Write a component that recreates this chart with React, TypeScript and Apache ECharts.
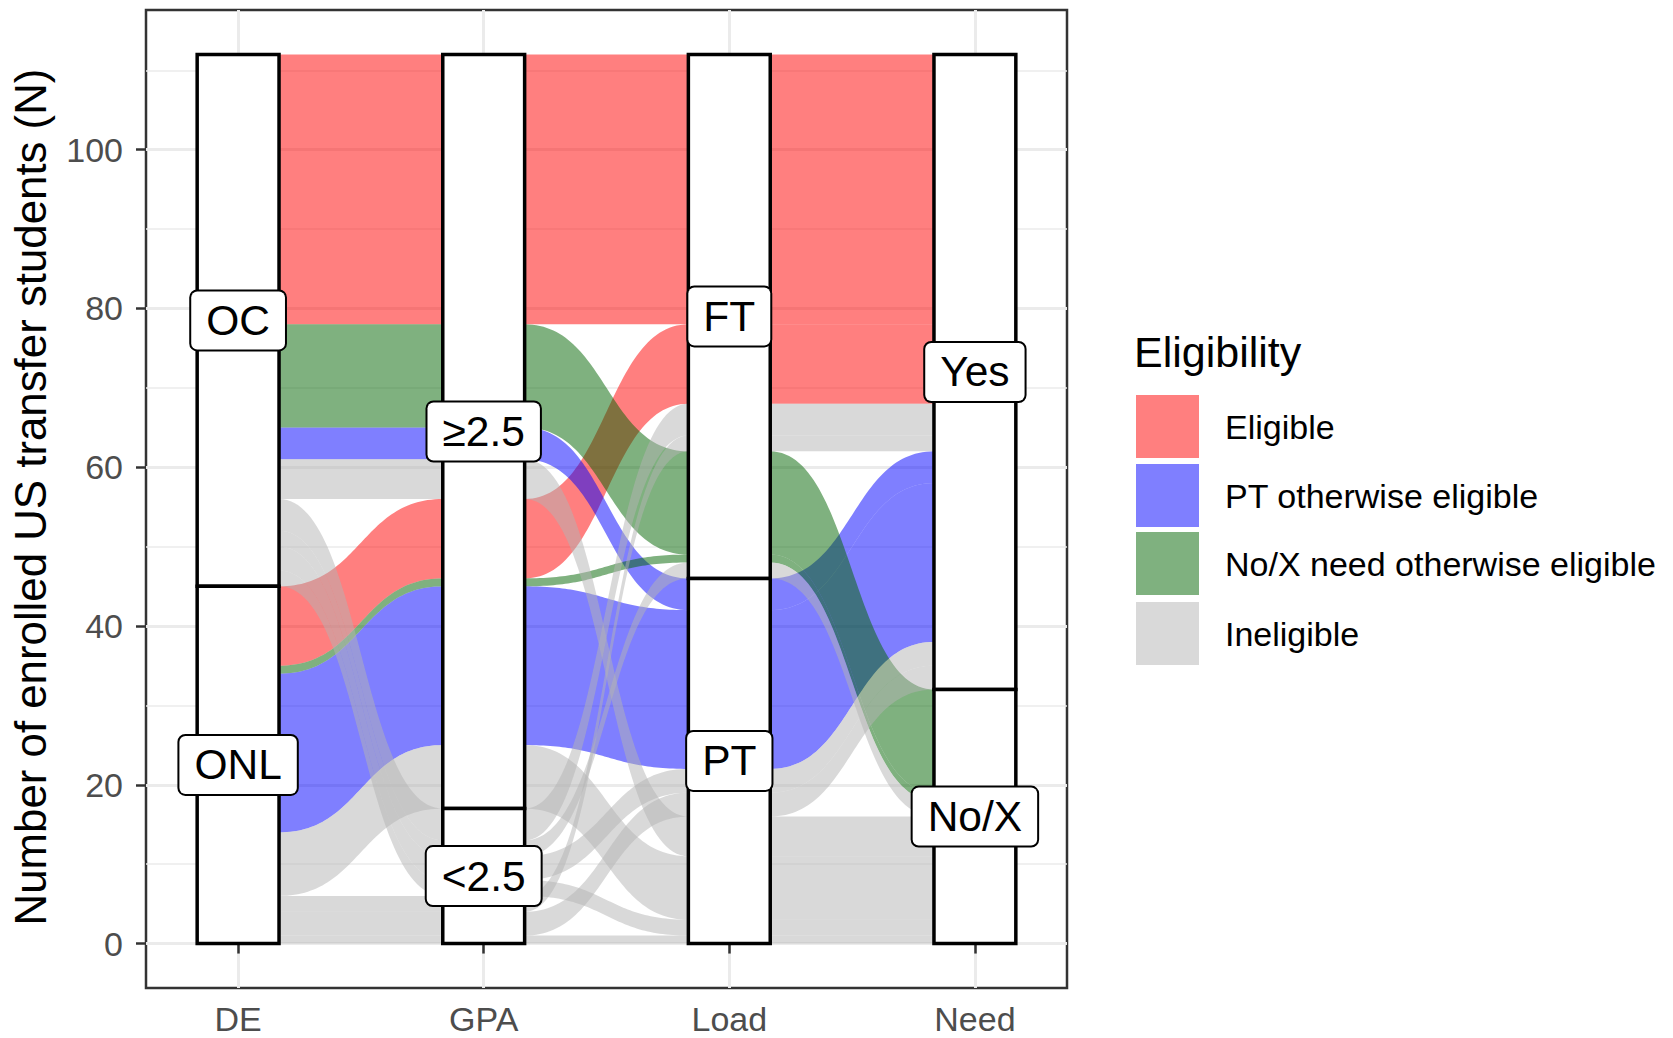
import React, { useEffect, useRef } from 'react';
import * as echarts from 'echarts';

// ---------- data ----------
const axisNames = ['DE', 'GPA', 'Load', 'Need'];
const strataDE = ['OC', 'ONL'];
const strataGPA = ['≥2.5', '<2.5'];
const strataLoad = ['FT', 'PT'];
const strataNeed = ['Yes', 'No/X'];

const eligibilityLevels = ['Eligible', 'PT otherwise eligible', 'No/X need otherwise eligible', 'Ineligible'];
const eligibilityColors = ['rgba(255,0,0,0.5)', 'rgba(0,0,255,0.5)', 'rgba(0,100,0,0.5)', 'rgba(179,179,179,0.5)'];

// one entry per alluvium (combination of strata)
const alluvDE = ['OC', 'ONL', 'OC', 'ONL', 'OC', 'ONL', 'OC', 'ONL', 'OC', 'OC', 'OC', 'OC', 'ONL', 'ONL', 'ONL'];
const alluvGPA = ['≥2.5', '≥2.5', '≥2.5', '≥2.5', '≥2.5', '≥2.5', '≥2.5', '≥2.5', '<2.5', '<2.5', '<2.5', '<2.5', '<2.5', '<2.5', '<2.5'];
const alluvLoad = ['FT', 'FT', 'PT', 'PT', 'FT', 'FT', 'PT', 'PT', 'FT', 'FT', 'PT', 'PT', 'FT', 'PT', 'PT'];
const alluvNeed = ['Yes', 'Yes', 'Yes', 'Yes', 'No/X', 'No/X', 'No/X', 'No/X', 'Yes', 'No/X', 'Yes', 'No/X', 'Yes', 'Yes', 'No/X'];
const alluvN = [34, 10, 4, 20, 13, 1, 5, 8, 4, 2, 3, 2, 2, 3, 1];
const alluvEligibility = [
  'Eligible', 'Eligible',
  'PT otherwise eligible', 'PT otherwise eligible',
  'No/X need otherwise eligible', 'No/X need otherwise eligible',
  'Ineligible', 'Ineligible', 'Ineligible', 'Ineligible', 'Ineligible',
  'Ineligible', 'Ineligible', 'Ineligible', 'Ineligible',
];

const yTicks = [0, 20, 40, 60, 80, 100];
const yMinorTicks = [10, 30, 50, 70, 90, 110];
const xTicks = [1, 2, 3, 4];

const FONT = "'Liberation Sans', Arial, Helvetica, sans-serif";

// ---------- layout (ggalluvial-like stacking, zigzag lode ordering) ----------
const strataLevels = [strataDE, strataGPA, strataLoad, strataNeed];
const alluvStrata = [alluvDE, alluvGPA, alluvLoad, alluvNeed];
const nAxes = axisNames.length;
const total = alluvN.reduce((a, b) => a + b, 0);
const stratumWidth = 1 / 3;

function zigzag(k: number, m: number): number[] {
  const order = [k];
  let left = k - 1;
  let right = k + 1;
  let goLeft = k <= m - 1 - k;
  while (order.length < m) {
    if (goLeft && left >= 0) order.push(left--);
    else if (!goLeft && right < m) order.push(right++);
    else if (left >= 0) order.push(left--);
    else order.push(right++);
    goLeft = !goLeft;
  }
  return order;
}

function computeLayout() {
  const lo: number[][] = [];
  const hi: number[][] = [];
  const strata: { axis: number; name: string; lo: number; hi: number }[] = [];
  for (let k = 0; k < nAxes; k++) {
    lo.push(new Array(alluvN.length).fill(0));
    hi.push(new Array(alluvN.length).fill(0));
    const order = zigzag(k, nAxes);
    let top = total;
    for (const s of strataLevels[k]) {
      const members = alluvN.map((_, i) => i).filter((i) => alluvStrata[k][i] === s);
      members.sort((i, j) => {
        for (const a of order) {
          const d = strataLevels[a].indexOf(alluvStrata[a][i]) - strataLevels[a].indexOf(alluvStrata[a][j]);
          if (d !== 0) return d;
        }
        return i - j;
      });
      const sTop = top;
      for (const i of members) {
        hi[k][i] = top;
        top -= alluvN[i];
        lo[k][i] = top;
      }
      strata.push({ axis: k, name: s, lo: top, hi: sTop });
    }
  }
  return { lo, hi, strata };
}

function bez(a: number[], b: number[], t: number): number[] {
  const dx = b[0] - a[0];
  const c1 = [a[0] + 0.5 * dx, a[1]];
  const c2 = [b[0] - 0.5 * dx, b[1]];
  const u = 1 - t;
  return [
    u * u * u * a[0] + 3 * u * u * t * c1[0] + 3 * u * t * t * c2[0] + t * t * t * b[0],
    u * u * u * a[1] + 3 * u * u * t * c1[1] + 3 * u * t * t * c2[1] + t * t * t * b[1],
  ];
}

export default function App() {
  const ref = useRef<HTMLDivElement>(null);

  useEffect(() => {
    if (!ref.current) return;
    const chart = echarts.init(ref.current, undefined, { renderer: 'svg' });
    const { lo, hi, strata } = computeLayout();

    const ribbonSeries = eligibilityLevels.map((lev, e) => {
      const data: number[][] = [];
      alluvN.forEach((_, i) => {
        if (alluvEligibility[i] !== lev) return;
        for (let k = 0; k < nAxes - 1; k++) {
          data.push([k + 1 + stratumWidth / 2, k + 2 - stratumWidth / 2, lo[k][i], hi[k][i], lo[k + 1][i], hi[k + 1][i]]);
        }
      });
      return {
        type: 'custom',
        name: lev,
        z: 2,
        itemStyle: { color: eligibilityColors[e] },
        encode: { x: [0, 1], y: [2, 3, 4, 5] },
        data,
        renderItem: (params: any, api: any) => {
          const x0 = api.value(0), x1 = api.value(1);
          const t0 = api.coord([x0, api.value(3)]);
          const t1 = api.coord([x1, api.value(5)]);
          const b0 = api.coord([x0, api.value(2)]);
          const b1 = api.coord([x1, api.value(4)]);
          const N = 60;
          const pts: number[][] = [];
          for (let s = 0; s <= N; s++) pts.push(bez(t0, t1, s / N));
          for (let s = N; s >= 0; s--) pts.push(bez(b0, b1, s / N));
          return { type: 'polygon', shape: { points: pts }, style: { fill: eligibilityColors[e], stroke: 'none' } };
        },
      };
    });

    const strataData = strata.map((s) => [s.axis + 1, s.lo, s.hi]);
    const strataSeries = {
      type: 'custom',
      name: 'strata',
      z: 3,
      encode: { x: 0, y: [1, 2] },
      data: strataData,
      renderItem: (params: any, api: any) => {
        const x = api.value(0);
        const p1 = api.coord([x - stratumWidth / 2, api.value(2)]);
        const p2 = api.coord([x + stratumWidth / 2, api.value(1)]);
        return {
          type: 'rect',
          shape: { x: p1[0], y: p1[1], width: p2[0] - p1[0], height: p2[1] - p1[1] },
          style: { fill: '#ffffff', stroke: '#000000', lineWidth: 3.5 },
        };
      },
    };

    const labelData = strata.map((s) => [s.axis + 1, (s.lo + s.hi) / 2]);
    const labelNames = strata.map((s) => s.name);
    const labelSeries = {
      type: 'custom',
      name: 'labels',
      z: 4,
      encode: { x: 0, y: 1 },
      data: labelData,
      renderItem: (params: any, api: any) => {
        const p = api.coord([api.value(0), api.value(1)]);
        return {
          type: 'text',
          x: p[0],
          y: p[1],
          style: {
            text: labelNames[params.dataIndex],
            align: 'center',
            verticalAlign: 'middle',
            fontSize: 42.5,
            fontFamily: FONT,
            lineHeight: 34,
            fill: '#000',
            backgroundColor: '#fff',
            borderColor: '#000',
            borderWidth: 2,
            borderRadius: 6,
            padding: [12, 15],
          },
        };
      },
    };

    const legendTop = [395, 464, 532, 602];
    const graphic: any[] = [
      {
        type: 'text',
        x: 30,
        y: 497,
        rotation: Math.PI / 2,
        style: {
          text: 'Number of enrolled US transfer students (N)',
          fontSize: 43.8,
          fontFamily: FONT,
          fill: '#000',
          align: 'center',
          verticalAlign: 'middle',
        },
      },
      {
        type: 'text',
        x: 1134,
        y: 352,
        style: { text: 'Eligibility', fontSize: 43, fontFamily: FONT, fill: '#000', align: 'left', verticalAlign: 'middle' },
      },
    ];
    eligibilityLevels.forEach((lev, e) => {
      graphic.push({
        type: 'rect',
        shape: { x: 1136, y: legendTop[e], width: 63, height: 63 },
        style: { fill: eligibilityColors[e], stroke: 'none' },
      });
      graphic.push({
        type: 'text',
        x: 1225,
        y: legendTop[e] + 31.5,
        style: { text: lev, fontSize: 34, fontFamily: FONT, fill: '#000', align: 'left', verticalAlign: 'middle' },
      });
    });

    const option: any = {
      animation: false,
      backgroundColor: '#ffffff',
      grid: {
        left: 146,
        top: 10,
        width: 921,
        height: 978,
        show: true,
        borderColor: '#333333',
        borderWidth: 2.5,
        backgroundColor: 'transparent',
        containLabel: false,
        outerBoundsMode: 'none',
      },
      xAxis: {
        type: 'value',
        min: 0.625,
        max: 4.375,
        axisLine: { show: false },
        axisTick: { show: true, customValues: xTicks, length: 10, lineStyle: { color: '#333333', width: 2.5 } },
        axisLabel: {
          customValues: xTicks,
          formatter: (v: number) => axisNames[Math.round(v) - 1] ?? '',
          fontSize: 34,
          fontFamily: FONT,
          color: '#4D4D4D',
          margin: 14,
        },
        splitLine: { show: true, lineStyle: { color: '#EBEBEB', width: 3 } },
      },
      yAxis: [
        {
          type: 'value',
          min: -5.6,
          max: 117.6,
          axisLine: { show: false },
          axisTick: { show: true, customValues: yTicks, length: 10, lineStyle: { color: '#333333', width: 2.5 } },
          axisLabel: {
            customValues: yTicks,
            fontSize: 34,
            fontFamily: FONT,
            color: '#4D4D4D',
            margin: 23,
          },
          splitLine: { show: true, lineStyle: { color: '#EBEBEB', width: 3 } },
        },
        {
          type: 'value',
          min: -5.6,
          max: 117.6,
          position: 'left',
          axisLine: { show: false },
          axisTick: { show: false, customValues: yMinorTicks },
          axisLabel: { show: false, customValues: yMinorTicks },
          splitLine: { show: true, lineStyle: { color: '#EBEBEB', width: 1.5 } },
        },
      ],
      graphic,
      series: [...ribbonSeries, strataSeries, labelSeries],
    };
    chart.setOption(option);
    return () => chart.dispose();
  }, []);

  return (
    <div
      ref={ref}
      style={{ position: 'fixed', left: 0, top: 0, width: 1673, height: 1038, background: '#fff' }}
    />
  );
}
